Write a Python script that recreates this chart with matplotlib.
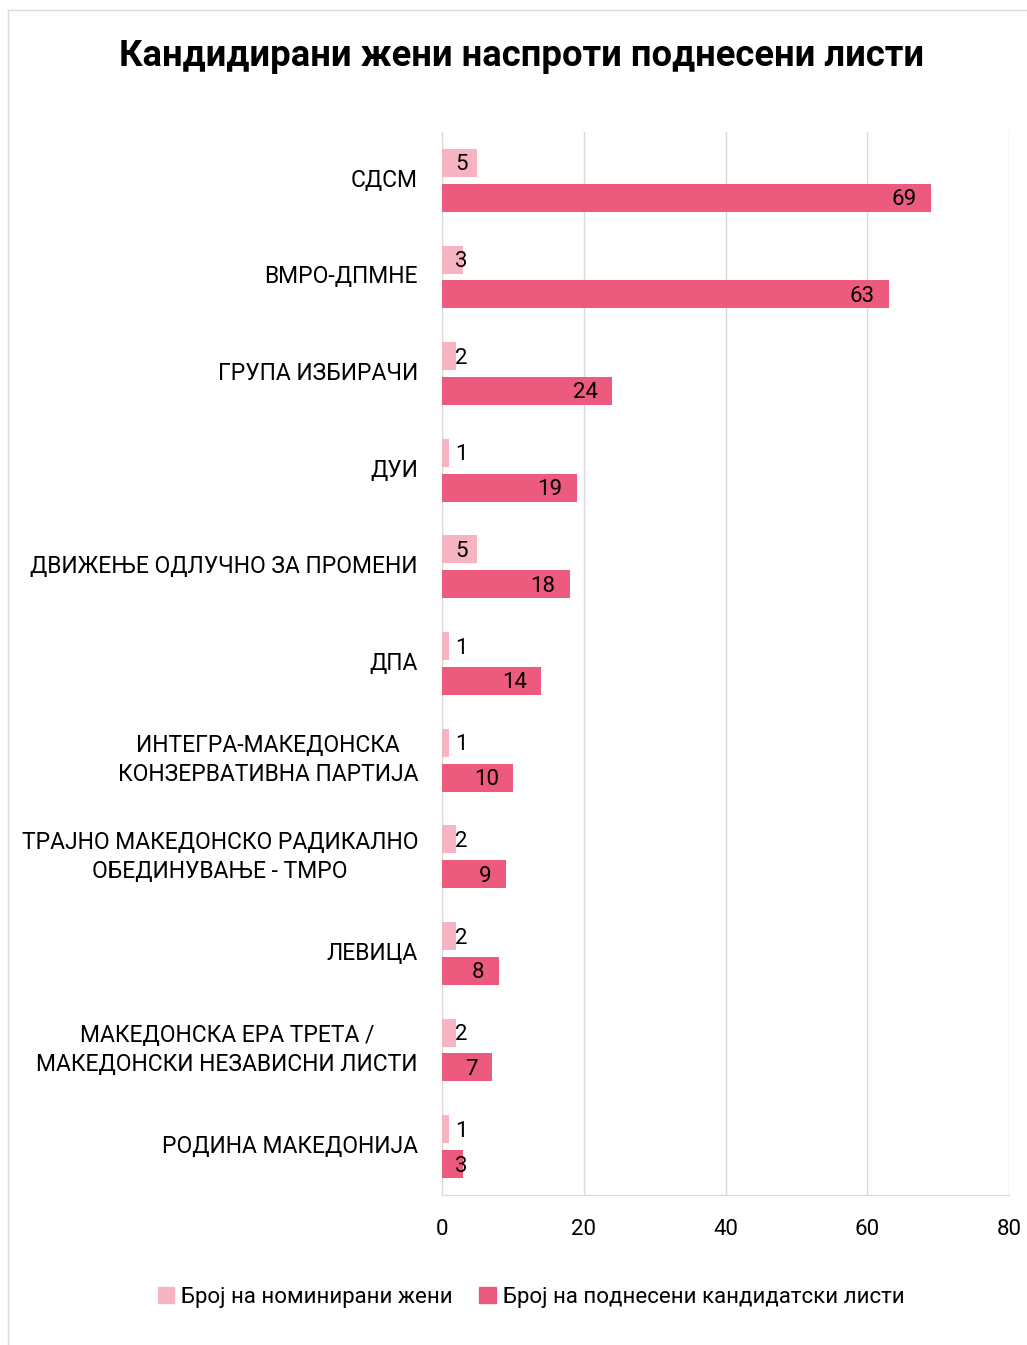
import numpy as np
import matplotlib.pyplot as plt
from matplotlib.lines import Line2D
from matplotlib.patches import Patch

plt.rcParams['font.family'] = ['Roboto', 'DejaVu Sans']

# Податоци
partii = [
    'СДСМ',
    'ВМРО-ДПМНЕ',
    'ГРУПА ИЗБИРАЧИ',
    'ДУИ',
    'ДВИЖЕЊЕ ОДЛУЧНО ЗА ПРОМЕНИ',
    'ДПА',
    'ИНТЕГРА-МАКЕДОНСКА\nКОНЗЕРВАТИВНА ПАРТИЈА',
    'ТРАЈНО МАКЕДОНСКО РАДИКАЛНО\nОБЕДИНУВАЊЕ - ТМРО',
    'ЛЕВИЦА',
    'МАКЕДОНСКА ЕРА ТРЕТА /\nМАКЕДОНСКИ НЕЗАВИСНИ ЛИСТИ',
    'РОДИНА МАКЕДОНИЈА',
]
zeni = [5, 3, 2, 1, 5, 1, 1, 2, 2, 2, 1]
listi = [69, 63, 24, 19, 18, 14, 10, 9, 8, 7, 3]
x_ticks = [0, 20, 40, 60, 80]

svetla = '#F6B4C3'
temna = '#EC5A7E'

fig = plt.figure(figsize=(10.27, 13.45), dpi=100)
W, H = 1027, 1345
ax = fig.add_axes([442 / W, 1 - 1195 / H, 567 / W, (1195 - 132) / H])

y = np.arange(len(partii))
h = 0.29
off = 0.18
ax.barh(y - off, zeni, height=h, color=svetla, zorder=3)
ax.barh(y + off, listi, height=h, color=temna, zorder=3)

ax.set_ylim(len(partii) - 0.5, -0.5)
ax.set_xlim(0, 80)
ax.set_xticks(x_ticks)
ax.set_xticklabels([str(t) for t in x_ticks], fontsize=16)
ax.tick_params(axis='x', length=0, pad=17)
ax.set_yticks([])
ax.grid(axis='x', color='#D9D9D9', lw=1, zorder=0)
for s in ['top', 'right']:
    ax.spines[s].set_visible(False)
for s in ['left', 'bottom']:
    ax.spines[s].set_color('#D9D9D9')

# Етикети на категориите
for i, p in enumerate(partii):
    ax.annotate(p, (0, i), xytext=(-24, 0), textcoords='offset pixels',
                ha='right', va='center', multialignment='center',
                fontsize=16.5, linespacing=1.35)

# Вредности на столбовите
px_per_unit = 567 / 80
def label(v, yy):
    tw = 10 * len(str(v))
    if v * px_per_unit - 15 - tw < 13:
        ax.annotate(str(v), (0, yy), xytext=(13, -2), textcoords='offset pixels',
                    ha='left', va='center', fontsize=16, zorder=5)
    else:
        ax.annotate(str(v), (v, yy), xytext=(-14, -2), textcoords='offset pixels',
                    ha='right', va='center', fontsize=16, zorder=5)

for i in range(len(partii)):
    label(zeni[i], y[i] - off)
    label(listi[i], y[i] + off)

fig.suptitle('Кандидирани жени наспроти поднесени листи', x=0.508, y=1 - 56 / H,
             va='center', fontsize=26.2, fontweight='bold')

handles = [Patch(color=svetla, label='Број на номинирани жени'),
           Patch(color=temna, label='Број на поднесени кандидатски листи')]
fig.legend(handles=handles, loc='center', bbox_to_anchor=(0.517, 1 - 1297 / H),
           ncol=2, frameon=False, fontsize=16, handlelength=0.75, handleheight=0.75,
           handletextpad=0.3, columnspacing=1.2)

# Рамка околу графиконот
fig.add_artist(Line2D([8 / W, 1], [1 - 10 / H, 1 - 10 / H], color='#D9D9D9', lw=1))
fig.add_artist(Line2D([8 / W, 8 / W], [0, 1 - 10 / H], color='#D9D9D9', lw=1))

fig.savefig('out.png', dpi=100, facecolor='white')
